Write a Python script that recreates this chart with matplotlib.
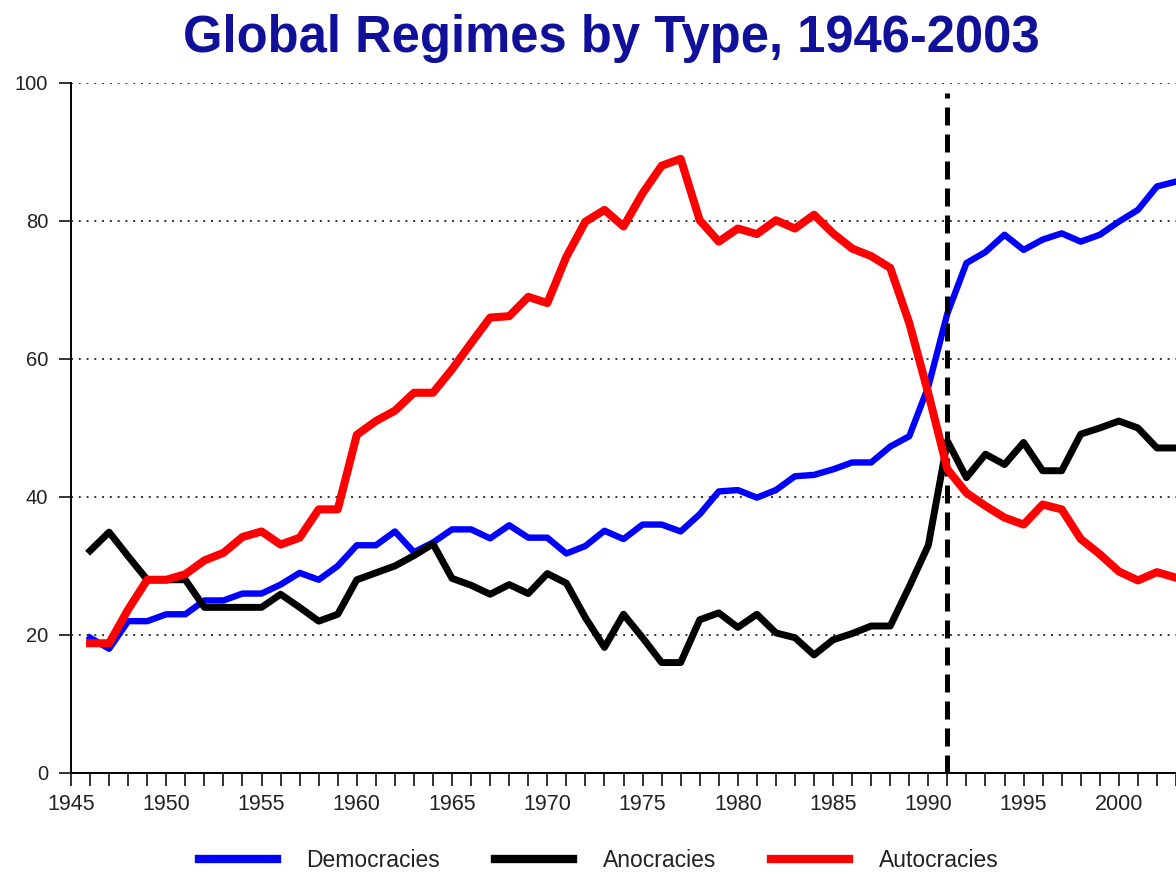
import matplotlib
matplotlib.use("Agg")
import matplotlib.pyplot as plt
from matplotlib.lines import Line2D

plt.rcParams['font.family'] = ['Liberation Sans', 'DejaVu Sans']

# yearly share of countries by regime type (%)
years = list(range(1946, 2004))

democracies = [19.6, 18, 22, 22, 23, 23, 25, 25, 26, 26,
               27.3, 29, 28, 30, 33, 33, 35, 32, 33.4, 35.3,
               35.3, 34, 35.9, 34.1, 34.1, 31.8, 32.9, 35.1, 33.9, 36,
               36, 35, 37.5, 40.8, 41, 39.9, 41, 43, 43.2, 44,
               45, 45, 47.3, 48.8, 56, 66.6, 73.9, 75.5, 78, 75.8,
               77.3, 78.2, 77, 78, 79.9, 81.6, 85, 85.7]

anocracies = [32.2, 34.9, 31.4, 28, 28, 28, 24, 24, 24, 24,
              25.9, 24, 22, 23, 28, 29, 30, 31.5, 33.2, 28.2,
              27.2, 25.9, 27.3, 26, 28.9, 27.5, 22.5, 18.2, 23, 19.6,
              16, 16, 22.2, 23.2, 21.1, 23, 20.3, 19.6, 17.1, 19.3,
              20.2, 21.3, 21.3, 27, 33, 48.1, 42.8, 46.2, 44.7, 47.9,
              43.8, 43.8, 49.1, 50, 51, 50, 47.1, 47.1]

autocracies = [18.8, 18.8, 23.7, 28, 28, 28.8, 30.8, 31.9, 34.2, 35,
               33.1, 34.1, 38.2, 38.2, 49, 51, 52.5, 55.1, 55.1, 58.5,
               62.3, 66, 66.2, 69, 68.1, 74.8, 79.9, 81.6, 79.2, 84,
               88, 89, 80.1, 77, 78.9, 78.1, 80.1, 78.9, 80.9, 78.2,
               76, 74.9, 73.2, 65.2, 55, 44, 40.6, 38.7, 37, 36,
               38.9, 38.2, 33.9, 31.7, 29.2, 27.9, 29.1, 28.3]

cold_war_end = 1991
y_ticks = [0, 20, 40, 60, 80, 100]
x_label_years = list(range(1945, 2005, 5))

fig = plt.figure(figsize=(11.76, 8.74), dpi=100)
ax = fig.add_axes([0.0604, 0.1156, 0.9396, 0.7895])

# dotted horizontal grid
for v in y_ticks[1:]:
    ax.axhline(v, color='#333333', lw=1.4, dashes=(1.0, 3.0), zorder=1)

ax.plot(years, democracies, color='#0000ff', lw=4.6, solid_joinstyle='round', zorder=3)
ax.plot(years, anocracies, color='black', lw=5.0, solid_joinstyle='round', zorder=3)
ax.axvline(cold_war_end, ymax=0.985, color='black', lw=3.6, dashes=(3.6, 1.8), zorder=4)
ax.plot(years, autocracies, color='#ff0000', lw=5.8, solid_joinstyle='round', zorder=5)

ax.set_xlim(1945, 2002.67)
ax.set_ylim(0, 100)
ax.spines['top'].set_visible(False)
ax.spines['right'].set_visible(False)
ax.spines['left'].set_linewidth(1.4)
ax.spines['bottom'].set_linewidth(1.4)

ax.set_yticks(y_ticks)
ax.set_xticks(years, minor=True)
ax.set_xticks(x_label_years)
ax.tick_params(axis='y', length=8.5, width=1.3, pad=8, labelsize=14.5, colors='#222222')
ax.tick_params(axis='x', which='both', length=9, width=1.3, pad=6, labelsize=15.5,
               colors='#222222')

fig.text(0.52, 0.941, 'Global Regimes by Type, 1946-2003', ha='center', va='baseline',
         fontsize=36.5, fontweight='bold', color='#10109a')

handles = [Line2D([], [], color='#0000ff', lw=6),
           Line2D([], [], color='black', lw=6),
           Line2D([], [], color='#ff0000', lw=6)]
fig.legend(handles, ['Democracies', 'Anocracies', 'Autocracies'], loc='center',
           bbox_to_anchor=(0.509, 0.015), ncol=3, frameon=False, fontsize=16.5,
           handlelength=3.4, handletextpad=1.3, columnspacing=2.4,
           labelcolor='#222222')

fig.savefig('out.png', dpi=100)
